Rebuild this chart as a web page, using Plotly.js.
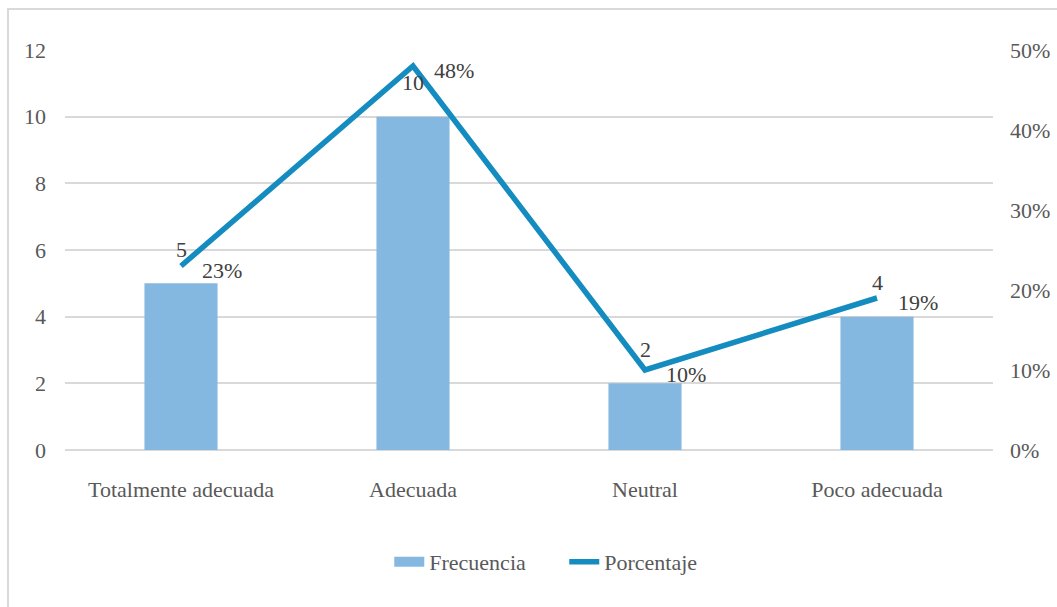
<!DOCTYPE html>
<html>
<head>
<meta charset="utf-8">
<script src="https://cdn.plot.ly/plotly-3.0.1.min.js"></script>
<style>
  html, body { margin: 0; padding: 0; background: #fff; overflow: hidden; }
  #wrap { position: relative; width: 1057px; height: 607px; overflow: hidden; }
  #frame { position: absolute; left: 7px; top: 8px; width: 1200px; height: 800px; border-left: 2px solid #d9d9d9; border-top: 2px solid #d9d9d9; box-sizing: border-box; }
  #chart { position: absolute; left: 0; top: 0; width: 1057px; height: 607px; }
</style>
</head>
<body>
<div id="wrap">
  <div id="frame"></div>
  <div id="chart"></div>
</div>
<script>
const categories = ["Totalmente adecuada", "Adecuada", "Neutral", "Poco adecuada"];
const frecuencia = [5, 10, 2, 4];
const porcentaje = [0.23, 0.48, 0.10, 0.19];
const freqLabels = ["5", "10", "2", "4"];
const pctLabels = ["23%", "48%", "10%", "19%"];
const seriesNames = ["Frecuencia", "Porcentaje"];

const FONT = "'Liberation Serif', 'Times New Roman', serif";
const FS = 22;
const TXT = "#595959";
const TXT2 = "#404040";
const BAR_COLOR = "#85B8E0";
const LINE_COLOR = "#158CC0";

const bars = {
  type: "bar", name: seriesNames[0], x: categories, y: frecuencia,
  marker: { color: BAR_COLOR }, yaxis: "y", hoverinfo: "skip", showlegend: false
};
// legend-only stand-in so the bar swatch is drawn as a wide rectangle
const barLegend = {
  type: "scatter", mode: "lines", name: seriesNames[0], x: [categories[0]], y: [null],
  line: { color: BAR_COLOR, width: 20 }, yaxis: "y", hoverinfo: "skip", showlegend: true
};
const line = {
  type: "scatter", mode: "lines", name: seriesNames[1], x: categories, y: porcentaje,
  line: { color: LINE_COLOR, width: 5.5 }, yaxis: "y2", hoverinfo: "skip"
};

const annotations = [];
categories.forEach((c, i) => {
  annotations.push({ x: c, y: frecuencia[i], xref: "x", yref: "y", text: freqLabels[i],
    showarrow: false, yshift: 34, font: { family: FONT, size: FS, color: TXT2 } });
  annotations.push({ x: c, y: porcentaje[i], xref: "x", yref: "y2", text: pctLabels[i],
    showarrow: false, xshift: 41, yshift: -4, font: { family: FONT, size: FS, color: TXT2 } });
});

const layout = {
  width: 1057, height: 607,
  margin: { l: 65, r: 64, t: 50, b: 157 },
  paper_bgcolor: "rgba(0,0,0,0)", plot_bgcolor: "rgba(0,0,0,0)",
  font: { family: FONT, size: FS, color: TXT },
  bargap: 0.685,
  showlegend: true,
  legend: { orientation: "h", x: 0.538, xanchor: "center", y: -0.28, yanchor: "middle",
    font: { family: FONT, size: FS, color: TXT }, traceorder: "normal",
    entrywidth: 130, entrywidthmode: "pixels" },
  xaxis: { type: "category", showgrid: false, zeroline: false, showline: false, ticks: "",
    ticklabelstandoff: 24, tickfont: { family: FONT, size: FS, color: TXT } },
  yaxis: { range: [0, 12], dtick: 2, showgrid: true, gridcolor: "#d9d9d9", gridwidth: 2,
    zeroline: true, zerolinecolor: "#d9d9d9", zerolinewidth: 2, showline: false, ticks: "",
    ticklabelstandoff: 18, tickfont: { family: FONT, size: FS, color: TXT } },
  yaxis2: { range: [0, 0.5], dtick: 0.1, tickformat: ".0%", overlaying: "y", side: "right",
    showgrid: false, zeroline: false, showline: false, ticks: "",
    ticklabelstandoff: 16, tickfont: { family: FONT, size: FS, color: TXT } },
  annotations: annotations
};

Plotly.newPlot("chart", [bars, barLegend, line], layout, { staticPlot: true, displayModeBar: false });
</script>
</body>
</html>
